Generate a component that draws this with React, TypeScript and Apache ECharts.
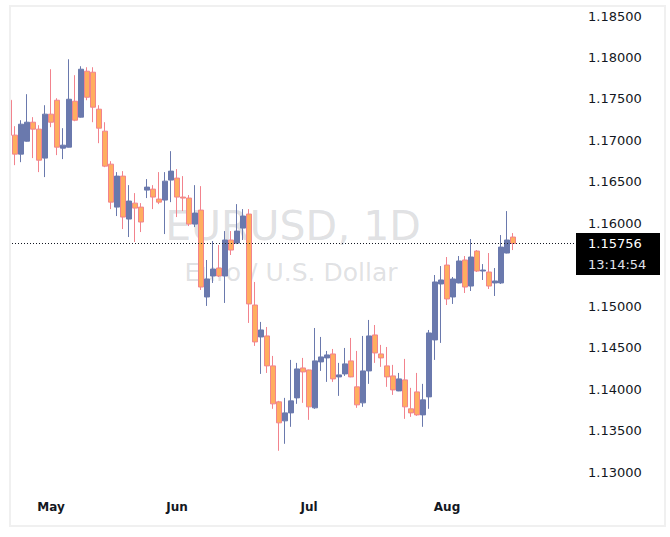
import { useEffect, useRef } from "react";
import * as echarts from "echarts";

const FONT = "DejaVu Sans";
const INK = "#131722";
const UP = "#6a79ad";
const DOWN_FILL = "#ffae5f";
const DOWN_EDGE = "#f2838d";

// daily bars, late April to mid August
const OPEN = [
  1.17484, 1.17063, 1.16834, 1.1699, 1.17219, 1.17135, 1.16786, 1.17316, 1.17484, 1.16906,
  1.16918, 1.17472, 1.1728, 1.17834, 1.17822, 1.17376, 1.17111, 1.16713, 1.16195, 1.16569,
  1.16051, 1.16243, 1.16195, 1.164, 1.16412, 1.16292, 1.1628, 1.16521, 1.16545, 1.16316,
  1.16304, 1.1599, 1.16159, 1.15111, 1.15364, 1.1546, 1.15364, 1.15798, 1.15761, 1.15942,
  1.16111, 1.15014, 1.14629, 1.14641, 1.1428, 1.13846, 1.13617, 1.13713, 1.13894, 1.14255,
  1.14231, 1.13774, 1.14328, 1.14376, 1.14424, 1.14147, 1.14183, 1.1434, 1.14027, 1.13834,
  1.14219, 1.14653, 1.14424, 1.1428, 1.14159, 1.13978, 1.14111, 1.13762, 1.13966, 1.13689,
  1.13906, 1.14593, 1.15268, 1.15496, 1.15111, 1.1528, 1.15557, 1.15243, 1.15665, 1.15424,
  1.15412, 1.1528, 1.1528, 1.15641, 1.15834,
];
const CLOSE = [
  1.17063, 1.16834, 1.17195, 1.17219, 1.17135, 1.16761, 1.17316, 1.17219, 1.16918, 1.16942,
  1.17496, 1.17243, 1.17858, 1.1752, 1.174, 1.17147, 1.16689, 1.16255, 1.16569, 1.16075,
  1.16268, 1.16183, 1.16015, 1.16436, 1.16316, 1.16255, 1.16508, 1.16629, 1.16316, 1.16304,
  1.1599, 1.16123, 1.15231, 1.15328, 1.15448, 1.15364, 1.15798, 1.15677, 1.15906, 1.16087,
  1.15027, 1.14569, 1.14713, 1.1428, 1.13822, 1.13593, 1.13713, 1.13858, 1.14243, 1.14207,
  1.13786, 1.1434, 1.14388, 1.14412, 1.14123, 1.14171, 1.14304, 1.14147, 1.1381, 1.14219,
  1.14641, 1.14436, 1.14376, 1.14147, 1.1399, 1.14123, 1.13786, 1.13713, 1.13689, 1.1387,
  1.14677, 1.15292, 1.15316, 1.15087, 1.15328, 1.15545, 1.15231, 1.15593, 1.15424, 1.15436,
  1.15243, 1.15304, 1.15713, 1.15798, 1.15756,
];
const LOW = [
  1.17039, 1.16701, 1.16737, 1.16985, 1.16786, 1.16617, 1.16557, 1.17159, 1.16822, 1.16774,
  1.16915, 1.17231, 1.17275, 1.17484, 1.17219, 1.16966, 1.16677, 1.16171, 1.16087, 1.1593,
  1.15834, 1.15774, 1.15894, 1.16304, 1.16171, 1.16231, 1.1587, 1.16255, 1.16075, 1.16147,
  1.15966, 1.15954, 1.15195, 1.15003, 1.1528, 1.15352, 1.15039, 1.15617, 1.15749, 1.15798,
  1.14798, 1.14521, 1.14183, 1.14195, 1.13762, 1.13256, 1.1334, 1.13545, 1.13822, 1.13834,
  1.13629, 1.13762, 1.14219, 1.14087, 1.14087, 1.13918, 1.14159, 1.14143, 1.13774, 1.13786,
  1.14063, 1.14316, 1.14268, 1.14027, 1.1393, 1.13975, 1.13641, 1.13665, 1.13677, 1.13545,
  1.13762, 1.14352, 1.14557, 1.15014, 1.15027, 1.15276, 1.15159, 1.15183, 1.15412, 1.15316,
  1.15207, 1.15123, 1.15268, 1.15637, 1.15677,
];
const HIGH = [
  1.1752, 1.17171, 1.17243, 1.17557, 1.1728, 1.17183, 1.17424, 1.17858, 1.17508, 1.17147,
  1.17978, 1.17786, 1.17894, 1.17882, 1.17882, 1.17424, 1.17219, 1.16749, 1.16617, 1.16629,
  1.1646, 1.16364, 1.16243, 1.16533, 1.1646, 1.16617, 1.16617, 1.1687, 1.16653, 1.16569,
  1.1634, 1.1646, 1.16448, 1.15557, 1.15786, 1.15737, 1.15906, 1.15906, 1.16231, 1.16171,
  1.16171, 1.15292, 1.1481, 1.14749, 1.144, 1.13858, 1.13894, 1.14352, 1.14316, 1.14376,
  1.14235, 1.14737, 1.14629, 1.1446, 1.14484, 1.14316, 1.14496, 1.14617, 1.1446, 1.14641,
  1.14834, 1.14773, 1.14533, 1.14508, 1.14292, 1.14195, 1.14364, 1.14015, 1.14195, 1.14063,
  1.14713, 1.15376, 1.15484, 1.15593, 1.15352, 1.15605, 1.15605, 1.1581, 1.15677, 1.15508,
  1.15641, 1.1546, 1.15858, 1.16147, 1.15882,
];

// 85 bars + empty space on the right
const CATEGORIES = Array.from({ length: 95 }, (_, i) => String(i));
const MONTHS: Record<number, string> = { 7: "May", 28: "Jun", 50: "Jul", 73: "Aug" };
const Y_MIN = 1.13;
const Y_MAX = 1.185;
const Y_STEP = 0.005;
const HIDDEN_TICK = 1.155; // sits under the last-price box
const TIMER = "13:14:54";

export default function App() {
  const ref = useRef<HTMLDivElement>(null);

  useEffect(() => {
    if (!ref.current) return;
    const chart = echarts.init(ref.current, undefined, { renderer: "svg" });
    const last = CLOSE[CLOSE.length - 1];

    chart.setOption({
      animation: false,
      textStyle: { fontFamily: FONT },
      grid: { left: 6, right: 94, top: 16, bottom: 65 },
      xAxis: {
        type: "category",
        data: CATEGORIES,
        boundaryGap: true,
        axisLine: { show: false },
        axisTick: { show: false },
        splitLine: { show: false },
        axisLabel: {
          interval: (i: number) => MONTHS[i] !== undefined,
          formatter: (_v: string, i: number) => MONTHS[i] ?? "",
          color: INK,
          fontSize: 12,
          fontWeight: "bold",
          fontFamily: FONT,
          margin: 29,
        },
      },
      yAxis: {
        type: "value",
        position: "right",
        min: Y_MIN,
        max: Y_MAX,
        interval: Y_STEP,
        axisLine: { show: false },
        axisTick: { show: false },
        splitLine: { show: false },
        axisLabel: {
          formatter: (v: number) => (Math.abs(v - HIDDEN_TICK) < 1e-6 ? "" : v.toFixed(5)),
          color: INK,
          fontSize: 13,
          fontFamily: FONT,
          margin: 12,
        },
      },
      graphic: [
        {
          type: "text",
          z: 1,
          x: 293,
          y: 226,
          style: {
            text: "EURUSD, 1D",
            fill: "rgba(149,152,161,0.3)",
            font: `41px "${FONT}"`,
            textAlign: "center",
            textVerticalAlign: "middle",
          },
        },
        {
          type: "text",
          z: 1,
          x: 291,
          y: 272,
          style: {
            text: "Euro / U.S. Dollar",
            fill: "rgba(149,152,161,0.3)",
            font: `25px "${FONT}"`,
            textAlign: "center",
            textVerticalAlign: "middle",
          },
        },
        {
          type: "rect",
          z: 100,
          shape: { x: 0, y: 0, width: 10.5, height: 537 },
          style: { fill: "#ffffff" },
        },
        {
          type: "rect",
          z: 101,
          shape: { x: 10, y: 6, width: 655, height: 520 },
          style: { fill: "none", stroke: "#f0f0f0", lineWidth: 2 },
        },
      ],
      series: [
        {
          type: "candlestick",
          data: OPEN.map((o, i) => [o, CLOSE[i], LOW[i], HIGH[i]]),
          barWidth: 5,
          itemStyle: {
            color: UP,
            borderColor: UP,
            color0: DOWN_FILL,
            borderColor0: DOWN_EDGE,
            borderWidth: 1,
          },
          markLine: {
            silent: true,
            precision: 5,
            symbol: ["none", "none"],
            lineStyle: { color: INK, type: [1, 2], width: 1 },
            label: {
              position: "end",
              distance: 0,
              formatter: `{h| }\n{p|${last.toFixed(5)}}\n{t|${TIMER}}`,
              rich: {
                h: { height: 21, lineHeight: 21, color: "transparent", fontSize: 13 },
                p: {
                  backgroundColor: "#000000",
                  color: "#ffffff",
                  fontSize: 13,
                  fontFamily: FONT,
                  width: 72,
                  height: 21,
                  lineHeight: 21,
                  padding: [0, 0, 0, 12],
                },
                t: {
                  backgroundColor: "#000000",
                  color: "#e0e3eb",
                  fontSize: 13,
                  fontFamily: FONT,
                  width: 72,
                  height: 21,
                  lineHeight: 21,
                  padding: [0, 0, 0, 12],
                },
              },
            },
            data: [{ yAxis: last }],
          },
        },
      ],
    });

    return () => chart.dispose();
  }, []);

  return <div ref={ref} style={{ position: "absolute", left: 0, top: 0, width: 670, height: 537 }} />;
}
